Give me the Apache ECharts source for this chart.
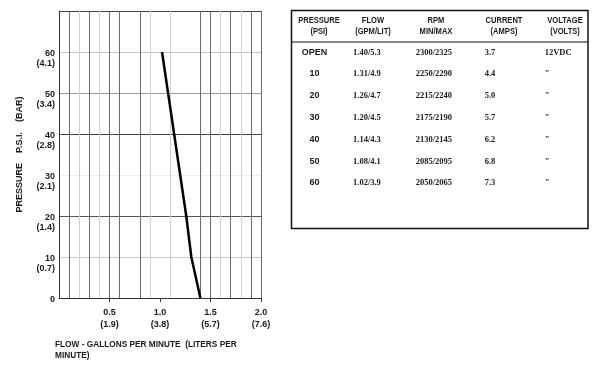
<!DOCTYPE html>
<html><head><meta charset="utf-8">
<script src="https://cdn.jsdelivr.net/npm/echarts@6/dist/echarts.min.js"></script>
<style>html,body{margin:0;padding:0;background:#fff}#c{width:600px;height:371px}</style>
</head><body><div id="c"></div>
<script>
// ---- data ----
const psiValues = [0, 10, 20, 30, 40, 50, 60];
const pressureLabels = ['OPEN', '10', '20', '30', '40', '50', '60'];
const flowGpm = ['1.40', '1.31', '1.26', '1.20', '1.14', '1.08', '1.02'];
const flowLit = ['5.3', '4.9', '4.7', '4.5', '4.3', '4.1', '3.9'];
const rpmMin = ['2300', '2250', '2215', '2175', '2130', '2085', '2050'];
const rpmMax = ['2325', '2290', '2240', '2190', '2145', '2095', '2065'];
const currentAmps = ['3.7', '4.4', '5.0', '5.7', '6.2', '6.8', '7.3'];
const voltageVolts = ['12VDC', '"', '"', '"', '"', '"', '"'];
const yTickPsi = [0, 10, 20, 30, 40, 50, 60];
const yTickBar = ['', '0.7', '1.4', '2.1', '2.8', '3.4', '4.1'];
const xTickGpm = ['0.5', '1.0', '1.5', '2.0'];
const xTickLit = ['1.9', '3.8', '5.7', '7.6'];
const headerLine1 = ['PRESSURE', 'FLOW', 'RPM', 'CURRENT', 'VOLTAGE'];
const headerLine2 = ['(PSI)', '(GPM/LIT)', 'MIN/MAX', '(AMPS)', '(VOLTS)'];
const yAxisTitle = 'PRESSURE    P.S.I.    (BAR)';
const xAxisTitle = 'FLOW - GALLONS PER MINUTE  (LITERS PER\nMINUTE)';

// ---- style ----
const SANS = "'Liberation Sans', Arial, sans-serif";
const SERIF = "'Liberation Serif', 'Times New Roman', serif";
const TXT = '#1a1a1a';
const D = '#6a6a6a', L = '#d0d0d0', N = 'rgba(0,0,0,0)';
const xGridColors = [D, D, L, D, L, D, D, N, D, L, N, L, N, N, D, D, L, D, L, D, D];
const yGridColors = ['#333', '#c8c8c8', '#555', '#eeeeee', '#444', '#999', '#c4c4c4', '#444'];

const chart = echarts.init(document.getElementById('c'), null, {renderer: 'canvas'});

// table graphics
const headerX = [319, 373, 436, 504, 565];
const rowY = [52.7, 74, 96, 117.3, 139.3, 161.3, 183];
const colLeft = [353, 415.7, 484.7, 544.7];
const els = [
  {type: 'rect', shape: {x: 291.5, y: 10.5, width: 296.5, height: 218}, style: {fill: '#fff', stroke: '#111', lineWidth: 1.5}, z: 0},
  {type: 'line', shape: {x1: 291.5, y1: 42, x2: 588, y2: 42}, style: {stroke: '#111', lineWidth: 1.2}, z: 1},
  {type: 'text', x: 55, y: 339, scaleX: 0.92, z: 2, style: {text: xAxisTitle, fill: TXT, fontSize: 9, fontWeight: 'bold', fontFamily: SANS, lineHeight: 11, align: 'left', verticalAlign: 'top'}}
];
headerLine1.forEach((t, i) => {
  els.push({type: 'text', x: headerX[i], y: 20.7, scaleX: 0.84, z: 2, style: {text: t, fill: TXT, fontSize: 9, fontWeight: 'bold', fontFamily: SANS, align: 'center', verticalAlign: 'middle'}});
  els.push({type: 'text', x: headerX[i], y: 31.7, scaleX: 0.84, z: 2, style: {text: headerLine2[i], fill: TXT, fontSize: 9, fontWeight: 'bold', fontFamily: SANS, align: 'center', verticalAlign: 'middle'}});
});
pressureLabels.forEach((p, i) => {
  const y = rowY[i];
  els.push({type: 'text', x: 314.5, y: y, z: 2, style: {text: p, fill: TXT, fontSize: 9, fontWeight: 'bold', fontFamily: SANS, align: 'center', verticalAlign: 'middle'}});
  const cells = [flowGpm[i] + '/' + flowLit[i], rpmMin[i] + '/' + rpmMax[i], currentAmps[i], voltageVolts[i]];
  cells.forEach((c, j) => {
    els.push({type: 'text', x: colLeft[j], y: y, z: 2, style: {text: c, fill: TXT, fontSize: 8.5, fontWeight: 'bold', fontFamily: SERIF, align: 'left', verticalAlign: 'middle'}});
  });
});

const labelRich = {
  b: {lineHeight: 14, fontSize: 9},
  v: {lineHeight: 10, fontSize: 9, fontWeight: 'bold', color: TXT, fontFamily: SANS, align: 'right'}
};

const option = {
  animation: false,
  backgroundColor: '#fff',
  grid: {left: 59, right: 339, top: 11, bottom: 73, containLabel: false, outerBoundsMode: 'none'},
  xAxis: [{
    type: 'value', min: 0, max: 2, interval: 0.5, position: 'bottom',
    axisLine: {show: true, onZero: false, lineStyle: {color: '#333', width: 1}},
    axisTick: {show: true, length: 4, lineStyle: {color: '#333'}, customValues: [0.5, 1, 1.5, 2]},
    splitLine: {show: false},
    axisLabel: {
      margin: 9, fontSize: 9, fontWeight: 'bold', color: TXT, fontFamily: SANS, lineHeight: 12,
      formatter: v => { const i = xTickGpm.indexOf(v.toFixed(1)); return i < 0 ? '' : xTickGpm[i] + '\n(' + xTickLit[i] + ')'; }
    }
  }, {
    type: 'value', min: 0, max: 2, interval: 0.1, position: 'top',
    axisLine: {show: false}, axisTick: {show: false}, axisLabel: {show: false},
    splitLine: {show: true, lineStyle: {color: xGridColors, width: 1}}
  }],
  yAxis: [{
    type: 'value', min: 0, max: 70, interval: 10,
    axisLine: {show: true, lineStyle: {color: '#333', width: 1}},
    axisTick: {show: false},
    splitLine: {show: true, lineStyle: {color: yGridColors, width: 1}},
    axisLabel: {
      margin: 4, align: 'right', rich: labelRich,
      formatter: v => { const i = yTickPsi.indexOf(v); if (i < 0) return ''; return '{b| }\n{v|' + v + '}\n{v|' + (yTickBar[i] ? '(' + yTickBar[i] + ')' : ' ') + '}'; }
    },
    name: yAxisTitle, nameLocation: 'middle', nameRotate: 90, nameGap: 35,
    nameTextStyle: {fontSize: 9, fontWeight: 'bold', fontFamily: SANS, color: TXT}
  }],
  series: [{
    type: 'line', xAxisIndex: 0, yAxisIndex: 0, symbol: 'none', smooth: false,
    lineStyle: {color: '#000', width: 2.5},
    data: psiValues.map((p, i) => [Number(flowGpm[i]), p]),
    z: 5
  }],
  graphic: {elements: els}
};
chart.setOption(option);
</script>
</body></html>
